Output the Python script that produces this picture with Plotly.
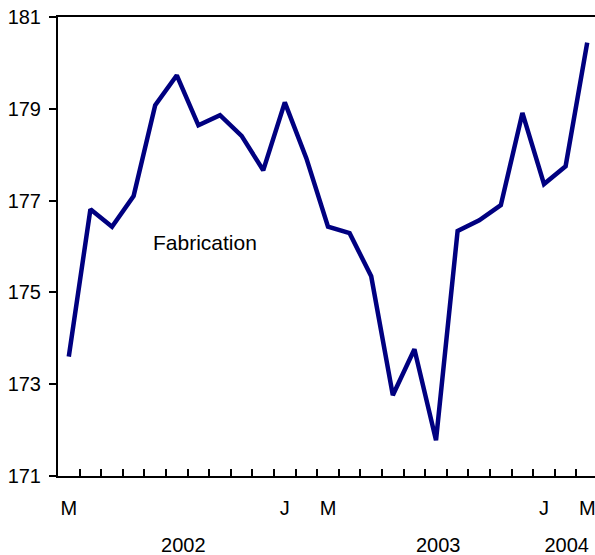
import plotly.graph_objects as go

# Monthly index, March 2002 to March 2004 (25 months)
months = ["2002-03", "2002-04", "2002-05", "2002-06", "2002-07", "2002-08", "2002-09",
          "2002-10", "2002-11", "2002-12", "2003-01", "2003-02", "2003-03", "2003-04",
          "2003-05", "2003-06", "2003-07", "2003-08", "2003-09", "2003-10", "2003-11",
          "2003-12", "2004-01", "2004-02", "2004-03"]
fabrication = [173.60, 176.81, 176.43, 177.10, 179.08, 179.73, 178.64, 178.86, 178.41,
               177.66, 179.14, 177.92, 176.43, 176.29, 175.35, 172.76, 173.76, 171.78,
               176.34, 176.57, 176.90, 178.91, 177.36, 177.75, 180.44]

month_label_idx = [0, 10, 12, 22, 24]
month_labels = ["M", "J", "M", "J", "M"]
year_label_pos = [5.3, 17.1, 23.05]
year_labels = ["2002", "2003", "2004"]
y_ticks = [171, 173, 175, 177, 179, 181]
series_name = "Fabrication"

x_idx = list(range(len(months)))
x_range = [-0.5, 24.36]
font_family = "Liberation Sans, Arial, sans-serif"
fs = 20

fig = go.Figure()
fig.add_trace(go.Scatter(
    x=x_idx, y=fabrication, mode="lines",
    line=dict(color="#000080", width=4.5),
    hoverinfo="skip", showlegend=False,
))
# invisible traces to activate overlay axes
fig.add_trace(go.Scatter(x=[None], y=[None], xaxis="x2", showlegend=False))
fig.add_trace(go.Scatter(x=[None], y=[None], xaxis="x3", showlegend=False))

fig.update_layout(
    width=595, height=555,
    margin=dict(l=58, r=0, t=17, b=79, autoexpand=False),
    paper_bgcolor="white", plot_bgcolor="white",
    font=dict(family=font_family, size=fs, color="black"),
    xaxis=dict(
        range=x_range, showgrid=False, zeroline=False, automargin=False,
        showline=True, linecolor="black", linewidth=2, mirror=True,
        tickvals=[i + 0.5 for i in x_idx[:-1]], ticktext=[""] * (len(x_idx) - 1),
        ticks="inside", ticklen=7, tickwidth=1.5, tickcolor="black",
        showticklabels=False,
    ),
    xaxis2=dict(
        overlaying="x", anchor="y", side="bottom", range=x_range, automargin=False,
        showgrid=False, zeroline=False, showline=False, ticks="",
        tickvals=month_label_idx, ticktext=month_labels,
        ticklabelstandoff=18, tickfont=dict(size=fs), ticklabeloverflow="allow",
    ),
    xaxis3=dict(
        overlaying="x", anchor="y", side="bottom", range=x_range, automargin=False,
        showgrid=False, zeroline=False, showline=False, ticks="",
        tickvals=year_label_pos, ticktext=year_labels,
        ticklabelstandoff=55, tickfont=dict(size=fs), ticklabeloverflow="allow",
    ),
    yaxis=dict(
        range=[171, 181], tickvals=y_ticks, showgrid=False, zeroline=False,
        automargin=False,
        showline=True, linecolor="black", linewidth=2,
        ticks="outside", ticklen=7, tickwidth=2, tickcolor="black",
        ticklabelstandoff=4, tickfont=dict(size=fs), ticklabeloverflow="allow",
    ),
    annotations=[dict(
        x=6.3, y=176.08, xref="x", yref="y", text=series_name,
        showarrow=False, font=dict(size=21, color="black"),
        xanchor="center", yanchor="middle",
    )],
)

fig.write_html("out.html", config={"displayModeBar": False},
               post_script="document.body.style.margin='0';")
